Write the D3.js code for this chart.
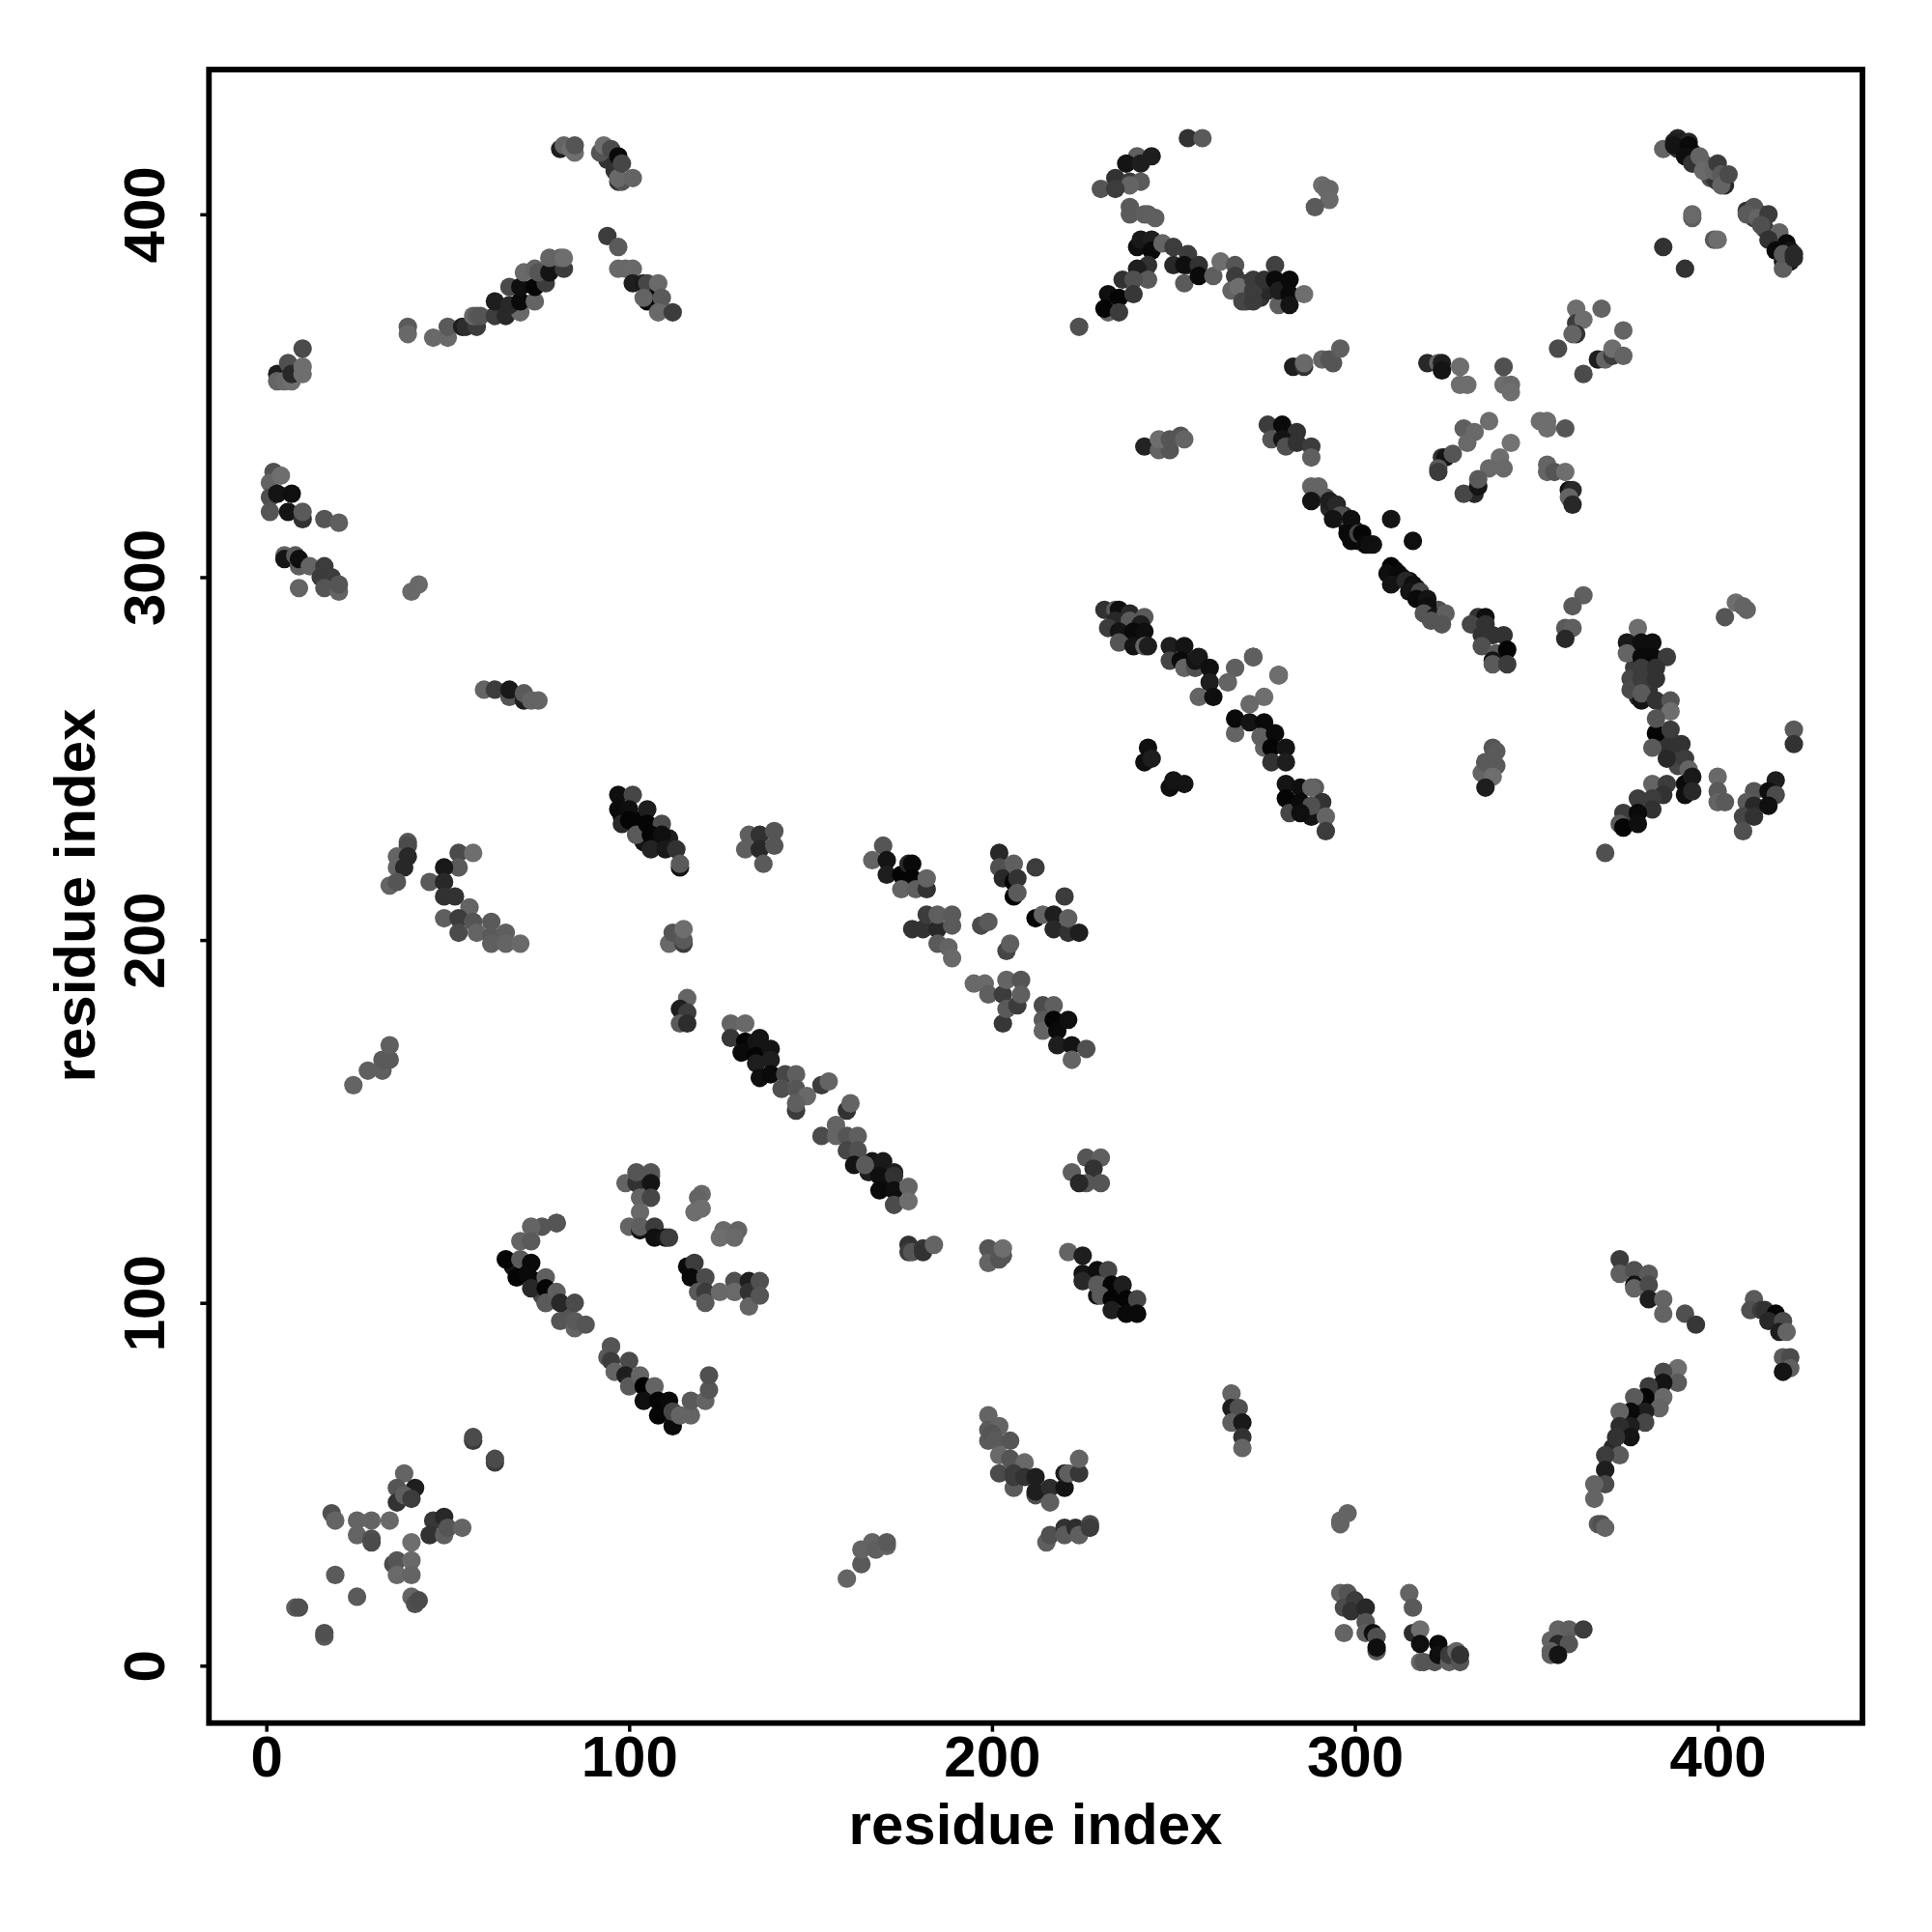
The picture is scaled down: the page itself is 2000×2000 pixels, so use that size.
<!DOCTYPE html>
<html><head><meta charset="utf-8">
<script src="https://cdn.jsdelivr.net/npm/d3@7/dist/d3.min.js"></script>
<style>html,body{margin:0;padding:0;background:#fff}svg{display:block}</style>
</head><body><svg id="c" width="2000" height="2000"></svg>
<script>
// contacts as [residue i, residue j, level]
const denseUnderlay=[[231,291,50],[234,291,90],[235,291,15],[238,290,40],[242,289,90],[234,288,40],[238,287,15],[238,288,90],[232,286,60],[241,287,30],
[290,323,85],[291,322,100],[292,322,90],[293,319,40],[295,318,30],[297,317,60],[298,314,20],[300,313,30],[301,310,15],[305,309,20],[311,302,20],[313,300,15],[315,299,20],[317,297,30],[319,293,15],[321,291,70],[323,291,80],
[389,421,40],[390,419,30],[391,418,20],[393,417,20],[394,415,60],[396,414,70],[397,413,90],[398,410,80],[399,410,60],[400,409,50],[409,401,70],[410,399,60],[412,400,70],[413,396,60],[415,394,50],[416,393,40],[417,391,15],[418,391,10],[419,390,15],[420,387,20],[420,389,30],
[270,378,60],[271,380,50],[270,376,70],[273,378,50],[274,377,50],[270,381,60],[276,379,40],
[377,279,30],[380,276,20],[377,275,60],[377,270,70],[381,269,50],[381,272,60],[378,267,40],[385,265,70],[384,254,30],[385,256,60],[387,255,50],[388,252,60],[389,248,70],
[68,110,20],[71,110,5],[74,106,10],[76,102,70],[79,101,60],[83,98,85],[98,234,5],[103,233,5],[104,227,20],[108,226,15],[111,228,30],[166,136,30],[171,133,15],[371,60,40],[374,64,30],[378,70,10],[382,75,30]];
const topLeftArc=[[81,418,30],[82,419,100],[84,418,110],[85,417,110],[85,419,85],[94,415,50],[92,417,85],[93,419,110],[95,418,75],[97,409,50],[96,412,50],[97,416,10],[98,409,85],[97,410,105],[98,414,70],[101,410,100],
[94,394,60],[97,391,90],[97,385,105],[99,385,105],[101,385,105],[101,381,30],[104,381,25],[105,376,10],[105,381,70],[107,377,10],[104,377,100],[108,381,105],[109,377,90],[108,373,105],[112,373,60],
[39,369,90],[39,367,105],[46,366,105],[50,366,105],[50,369,90],[54,369,30],[55,369,45],[58,369,60],[57,372,105],[58,372,90],[59,372,85],[63,372,60],[66,372,40],[70,373,105],[63,376,30],[67,375,40],[70,376,10],[74,376,100],[67,380,75],[70,380,15],[74,380,5],[77,381,60],[71,384,105],[74,385,100],[75,384,85],[78,384,20],[82,385,60],[78,388,100],[81,388,100],[82,388,110]];
const leftEdge=[[3,356,30],[3,354,100],[5,354,105],[7,354,110],[6,359,80],[7,356,40],[10,356,110],[10,358,110],[10,363,75],
[2,329,80],[1,326,100],[4,328,110],[1,322,80],[3,323,20],[7,323,15],[1,318,85],[6,318,20],[10,316,50],[10,318,90],[16,316,85],[20,315,95],
[5,306,100],[5,305,20],[8,306,90],[9,303,95],[9,305,15],[12,303,100],[16,303,60],[15,300,60],[18,300,60],[16,297,85],[20,296,100],[20,298,85],[9,297,100],[40,296,105],[42,298,105],
[60,269,100],[63,269,60],[67,267,85],[67,269,25],[71,266,30],[71,268,90],[73,266,100],[75,266,100]];
const topMiddle=[[254,421,50],[258,421,90],[240,416,95],[244,416,30],[237,414,20],[241,414,30],[234,410,50],[238,409,60],[241,409,90],[238,408,100],[230,407,85],[234,407,60],[238,402,90],[238,400,90],[242,400,95],[243,400,95],[245,399,95],
[240,391,15],[241,393,25],[244,393,30],[244,390,10],[247,392,100],[250,391,60],[250,386,40],[254,389,60],[254,386,60],[253,386,15],[253,381,90],[257,386,50],[257,383,10],[261,383,95],[263,387,110],[267,386,85],[267,383,60],[266,379,100],[268,380,110],[269,376,70],[272,376,60],[272,382,60],[272,379,60],[275,382,50],[278,386,65],[278,382,10],[279,375,95],[279,379,30],[282,382,10],[282,378,10],[282,375,20],[286,378,110],
[243,386,50],[240,385,30],[243,382,90],[236,382,50],[239,382,80],[232,378,15],[235,377,5],[239,378,55],[232,373,100],[231,374,5],[235,373,60],[224,369,80],
[242,336,35],[246,335,100],[249,335,85],[246,338,110],[249,338,85],[252,339,85],[253,338,100]];
const centerRight=[[283,358,30],[286,358,50],[286,359,105],[291,360,100],[294,359,85],[293,360,85],[296,363,95],
[276,342,60],[280,342,10],[284,340,50],[277,338,85],[280,338,20],[281,336,80],[284,337,50],[288,336,60],[288,333,95],
[288,325,100],[290,325,100],[288,321,20],[293,321,30],[295,320,40],[296,317,80],[294,316,20],[299,316,15],[299,310,10],[298,312,10],[301,312,70],[302,312,5],[303,309,10],[304,309,15],[310,316,20],[316,310,15],
[310,303,5],[309,301,15],[312,301,10],[310,298,20],[314,299,40],[316,298,15],[315,296,20],[318,296,70],[317,294,10],[320,294,20],[320,292,15],[319,290,85],[322,289,20],[325,290,95],[321,288,85],[324,287,85],
[334,289,50],[336,289,15],[332,287,70],[336,287,50],[335,284,50],[338,284,50],[341,284,50],[335,281,80],[339,279,90],[342,280,5],[338,277,20],[338,276,90],[342,276,60]];
const topRightBand=[[385,418,100],[388,420,30],[390,420,30],[392,420,40],[389,418,50],[388,419,20],[392,419,10],[391,416,15],[393,414,50],[395,416,100],[396,412,105],[399,412,100],[400,414,60],[401,411,90],[402,408,40],[401,408,100],[403,411,75],
[393,399,95],[393,400,105],[399,393,90],[400,393,110],[385,391,50],[391,385,50],
[408,401,50],[410,402,85],[408,400,90],[411,399,100],[414,400,60],[412,397,80],[417,395,100],[414,393,50],[416,390,10],[418,387,20],[418,385,95],[419,392,10],[420,390,20],[418,389,90],[421,388,40],[421,389,40],
[291,408,110],[292,407,105],[293,407,105],[293,404,105],[289,402,90]];
const crossCluster=[[361,374,110],[361,370,60],[363,371,110],[361,367,50],[360,367,100],[368,374,100],[374,368,100],[356,363,75],[363,356,75],[367,360,30],[369,360,100],[371,361,60],[371,363,110],[374,361,100],
[320,359,40],[323,359,100],[324,359,30],[324,357,20],[329,358,110],[329,353,110],[331,353,110],[341,358,80],[341,353,110],[343,353,105],[343,351,110],
[337,343,110],[330,341,95],[333,340,105],[331,337,105],[343,337,115],[351,343,110],[353,343,110],[353,341,110],[358,341,85],
[324,333,50],[325,333,20],[327,334,85],[323,330,90],[323,329,60],[340,333,110],[337,330,105],[341,330,105],[353,331,100],[353,329,100],[355,329,85],[358,329,110],
[333,323,40],[330,323,70],[334,325,20],[334,327,90],[359,324,20],[360,324,40],[359,322,100],[360,320,40],
[363,295,95],[360,292,90],[358,286,90],[360,286,95],[358,283,40],[402,289,85],[405,293,110],[407,292,100],[408,291,100]];
const rightMiddle=[[378,286,110],[375,282,25],[375,279,100],[379,282,15],[382,282,15],[379,278,10],[382,278,10],[386,278,60],[376,272,70],[376,269,75],[379,275,60],[383,275,50],[379,272,60],[383,272,50],[379,266,20],[379,268,90],[383,266,50],[387,266,85],[387,263,110],[383,257,5],[383,261,85],[387,258,60],[386,253,50],[386,250,40],[382,253,90],[390,254,50],[391,250,60],[392,247,100],[391,243,10],[393,245,25],[391,240,15],[393,241,40],
[400,245,105],[400,241,90],[400,238,100],[402,238,90],[382,243,100],[386,243,60],[385,240,50],[382,239,60],[378,239,60],[382,236,50],[374,235,60],[373,232,90],[378,235,10],[374,231,5],[378,232,15],[369,224,80],
[421,258,90],[421,254,50],[416,244,30],[410,241,85],[414,241,15],[416,240,75],[408,238,90],[410,237,40],[414,237,15],[407,234,70],[410,234,50],[407,230,80],
[336,249,20],[335,246,100],[336,249,90],[338,253,85],[339,252,90],[339,248,90],[338,245,110],[336,242,30],
[288,236,20],[288,234,20],[289,242,90],[291,238,50],[292,234,100],[292,230,60]];
const secondDiagonal=[[235,285,20],[235,282,85],[239,285,10],[239,281,20],[242,285,15],[242,281,100],[243,281,30],[249,281,30],[253,281,20],[249,277,70],[252,277,10],[253,275,100],[256,275,80],[256,277,20],[257,278,25],[260,275,15],[260,271,30],[267,275,95],[265,271,100],[257,267,100],[261,267,15],[272,278,20],[272,278,95],[279,273,30],[279,273,110],[275,267,110],[271,265,105],
[267,257,100],[267,261,10],[271,260,20],[275,260,10],[275,253,100],[274,256,95],[278,257,10],[277,253,5],[281,253,20],[277,249,50],[281,249,30],[281,243,20],[281,239,5],[282,235,70],[285,242,15],[288,242,100],[285,238,10],[288,237,80],[285,235,15],
[243,253,15],[242,249,15],[244,250,30],[249,242,15],[250,244,20],[253,243,20]];
const midCluster=[[133,229,95],[136,229,50],[132,225,95],[136,225,40],[137,221,90],[140,230,85],[140,226,85],
[170,226,85],[167,222,100],[171,222,20],[171,218,30],[175,218,5],[177,221,40],[178,221,10],[178,217,5],[175,214,100],[179,214,95],[182,214,50],[182,217,100],
[178,203,50],[181,203,50],[182,207,60],[185,203,40],[185,207,95],[189,207,90],[189,204,90],[185,199,90],[188,198,100],[189,195,105],[195,188,105],[198,188,105],[199,185,95],[203,177,55],[203,185,60],[204,181,90],[204,189,100],[208,189,85],[207,182,60],[208,185,95],
[197,204,75],[199,205,90],[204,197,70],[205,199,95],[202,224,40],[202,220,80],[203,217,40],[206,221,95],[206,216,5],[207,217,50],[206,212,5],[207,213,90],[212,220,60],[220,212,60],[212,206,5],[214,207,100],[217,207,30],[217,203,40],[221,202,50],[224,202,30],[221,206,95],
[214,182,75],[217,182,95],[214,178,90],[214,175,100],[217,178,5],[218,175,10],[221,178,15],[218,171,30],[222,171,20],[226,170,80],[222,167,100]];
const longDiagonal=[[128,177,100],[132,177,105],[128,173,55],[132,172,5],[135,172,20],[131,169,10],[135,168,5],[135,166,30],[136,173,20],[136,162,15],[139,170,20],[139,167,30],[139,163,10],[143,163,70],[146,163,95],[142,159,80],[146,159,85],[149,157,105],[146,153,60],[146,155,95],[153,160,60],[155,161,100],[160,153,50],[161,155,100],
[153,146,75],[157,149,100],[157,146,100],[160,146,85],[163,146,95],[160,142,70],[163,142,80],[162,138,20],[167,139,20],[165,138,90],[170,139,25],[173,136,30],[169,135,15],[173,135,50],[169,131,10],[173,131,15],[177,132,100],[173,127,75],[177,128,110],
[177,116,50],[177,114,60],[178,114,85],[181,115,55],[181,114,50],[184,116,100],[199,115,85],[199,111,100],[202,112,85],[203,113,85],[203,115,110],
[222,136,95],[226,140,85],[230,140,95],[228,137,50],[226,133,85],[230,133,85],[224,133,40]];
const thirdDiagonal=[[221,114,100],[225,113,30],[225,108,20],[225,106,40],[229,109,15],[232,109,70],[229,102,20],[229,105,90],[233,105,5],[230,102,90],[236,105,30],[233,101,5],[237,101,5],[240,101,70],[233,98,30],[237,97,10],[240,97,10]];
const bowl=[[199,69,100],[199,65,90],[202,66,100],[199,62,90],[200,64,85],[201,62,90],[205,62,85],[202,58,105],[205,57,85],[209,56,105],[202,53,75],[206,49,90],[206,53,60],[206,52,60],[209,52,50],[212,47,80],[212,52,30],[212,48,30],[216,49,45],[216,45,95],[220,49,20],[220,53,30],[221,53,95],[224,53,55],[224,57,100],
[215,34,95],[216,36,80],[220,38,50],[220,36,90],[223,38,45],[224,36,95],[227,39,75],[227,38,60],
[160,24,100],[164,28,90],[164,32,100],[167,34,100],[168,32,95],[171,33,100],[171,34,90],
[266,75,100],[266,71,30],[268,71,80],[266,67,95],[269,67,25],[269,63,50],[269,60,100]];
const lowerRight=[[373,112,60],[373,108,95],[377,109,80],[377,105,20],[377,104,100],[381,108,90],[381,105,75],[381,101,30],[385,101,100],[385,97,100],[391,97,80],[394,94,55],
[410,101,90],[409,98,80],[412,98,60],[413,98,50],[416,97,5],[414,95,40],[418,95,75],[417,92,30],[419,92,100],[418,85,90],[420,85,75],[420,82,95],[418,81,20],
[389,82,110],[389,78,90],[385,81,75],[385,78,20],[381,77,60],[385,74,105],[380,74,5],[377,74,90],[384,71,100],[380,70,30],[376,70,10],[373,70,100],[380,67,70],[376,66,30],[373,66,45],[376,63,20],[372,63,50],[373,58,90],[369,58,60],[369,54,30],[369,50,75],[366,50,100],[366,46,100],[367,39,90],[368,39,80],[369,38,100],
[296,39,100],[296,40,100],[298,42,100],
[296,20,100],[298,20,85],[297,16,75],[300,18,60],[299,15,50],[303,16,40],[303,12,85],[303,9,95],[297,9,100],[305,9,15],[306,8,80],[306,4,90],[306,5,15],
[315,20,100],[316,16,90],[316,9,45],[318,10,110],[318,6,15],[318,1,100],[319,1,85],[323,6,10],[322,1,85],[323,3,15],[326,1,95],[326,3,60],[329,1,85],[328,4,100],[329,3,50],
[356,10,100],[359,10,95],[363,10,60],[354,7,100],[356,6,40],[359,6,85],[354,4,100],[354,3,95],[356,3,20]];
const midLeft=[[97,240,15],[101,240,70],[97,236,10],[100,236,15],[98,232,40],[100,233,5],[105,236,30],[102,229,20],[102,229,90],[105,232,5],[109,232,75],[106,229,5],[109,229,15],[106,225,35],[110,225,25],[113,225,50],[114,220,20],[114,221,90],
[111,199,105],[112,202,85],[115,199,60],[115,200,90],[115,203,110],[116,184,100],[114,181,30],[116,180,60],[114,177,90],[116,177,45],
[39,227,85],[39,226,75],[36,223,100],[39,223,40],[36,220,100],[38,220,40],[34,215,100],[36,216,85],
[53,224,75],[57,224,110],[53,220,90],[49,220,25],[45,216,90],[49,216,40],[49,212,50],[52,212,50],[56,209,100],[49,206,95],[53,206,60],[57,205,85],[53,202,75],[58,202,100],[62,205,90],[62,201,90],[62,199,95],[66,202,95],[66,199,100],[70,199,105],
[24,160,100],[28,164,95],[32,164,95],[32,167,90],[34,167,90],[34,171,95]];
const lowerLeftU=[[99,133,100],[102,133,50],[102,136,85],[106,135,85],[106,136,85],[106,133,20],[103,129,100],[106,129,70],[103,125,105],[100,121,100],[103,120,20],[103,121,95],[107,121,60],[107,118,15],[110,118,20],[111,118,60],
[120,130,105],[119,129,100],[118,125,110],[120,126,110],[126,120,105],[125,118,110],[130,120,100],[129,118,105],
[116,110,10],[118,111,60],[117,107,10],[121,107,75],[119,103,90],[121,103,60],[121,100,90],[125,103,105],[129,106,80],[129,103,105],[133,106,30],[133,103,50],[133,99,100],[136,106,80],[136,102,85],
[80,122,40],[80,122,85],[76,121,85],[73,121,100],[70,117,100],[73,117,90],[66,112,5],[70,112,90],[73,111,10],[69,107,5],[72,108,10],[73,104,40],[77,107,95],[77,104,5],[77,100,60],[77,100,90],[80,103,95],[81,100,40],[85,100,75],[81,95,85],[85,93,100],[85,95,90],[88,94,85],
[94,85,90],[95,88,100],[95,88,85],[95,84,60],[96,81,100],[100,84,75],[99,80,30],[100,77,90],[103,80,100],[104,77,0],[107,77,100],[104,73,15],[108,73,5],[108,69,5],[111,73,10],[112,66,10],[112,70,70],[114,69,100],[117,69,100],[117,73,90],[121,73,100],[122,76,85],[122,80,80]];
const lowerLeftScatter=[[57,62,60],[57,63,75],[63,56,60],[63,57,75],[38,53,100],[36,49,85],[41,49,30],[36,45,50],[38,47,95],[40,46,60],[18,42,80],[19,40,100],[25,40,100],[29,40,100],[34,40,105],[25,36,100],[29,35,80],[29,34,75],[46,40,55],[49,41,40],[45,36,50],[49,36,95],[50,38,85],[54,38,100],[40,34,110],[35,28,75],[36,29,85],[40,29,105],[36,25,105],[40,25,100],[19,25,90],[25,19,90],[40,19,100],[41,17,80],[42,18,75],[8,16,95],[9,16,80],[16,8,90],[16,9,80]];
const tickValues=[0,100,200,300,400];
const axisLabel="residue index";

const contacts=[].concat(denseUnderlay,topLeftArc,leftEdge,topMiddle,centerRight,topRightBand,crossCluster,rightMiddle,secondDiagonal,midCluster,longDiagonal,thirdDiagonal,bowl,lowerRight,midLeft,lowerLeftU,lowerLeftScatter);

const font='"Liberation Sans",Arial,sans-serif';
const x=d3.scaleLinear().domain([-15.81,439.9]).range([216.3,1928]);
const y=d3.scaleLinear().domain([-15.81,439.9]).range([1783.7,72]);
const shade=d3.scaleLinear().domain([0,115]).range(["#000000","#737373"]);
const svg=d3.select("#c");
svg.append("rect").attr("width",2000).attr("height",2000).attr("fill","#fff");

svg.append("g").selectAll("circle").data(contacts).join("circle")
  .attr("cx",d=>x(d[0])).attr("cy",d=>y(d[1])).attr("r",9.6).attr("fill",d=>shade(d[2]));

const gx=svg.append("g").attr("transform","translate(0,1783.7)")
  .call(d3.axisBottom(x).tickValues(tickValues).tickSize(9).tickPadding(3.7).tickFormat(d3.format("d")));
const gy=svg.append("g").attr("transform","translate(216.3,0)")
  .call(d3.axisLeft(y).tickValues(tickValues).tickSize(9).tickFormat(d3.format("d")));
[gx,gy].forEach(g=>{
  g.select(".domain").remove();
  g.selectAll("line").attr("stroke","#000").attr("stroke-width",3.5);
  g.selectAll("text").attr("fill","#000").style("font-family",font).style("font-size","60px").style("font-weight","700");
});
gy.selectAll("text").attr("x",0).attr("dy",0).attr("text-anchor","middle").attr("transform","translate(-46.3,0) rotate(-90)");

svg.append("rect").attr("x",216.3).attr("y",72).attr("width",1711.7).attr("height",1711.7)
  .attr("fill","none").attr("stroke","#000").attr("stroke-width",5.8);

svg.append("text").attr("x",1072).attr("y",1909).attr("text-anchor","middle")
  .style("font-family",font).style("font-size","60px").style("font-weight","700").text(axisLabel);
svg.append("text").attr("transform","translate(98,927) rotate(-90)").attr("text-anchor","middle")
  .style("font-family",font).style("font-size","60px").style("font-weight","700").text(axisLabel);
</script></body></html>
